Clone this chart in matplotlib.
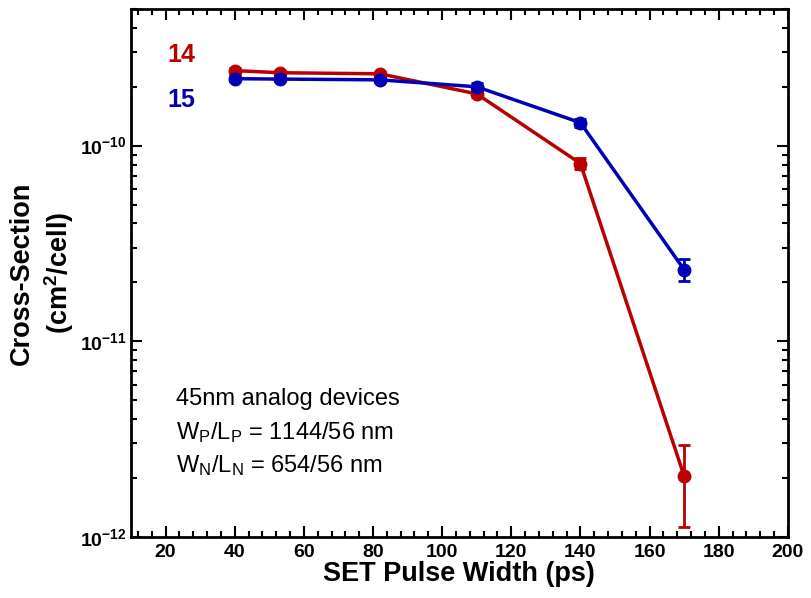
import math
import matplotlib
matplotlib.use("Agg")
import matplotlib.pyplot as plt
from matplotlib.ticker import MultipleLocator, LogLocator, FixedLocator, FuncFormatter, NullFormatter

plt.rcParams['font.family'] = ['Liberation Sans', 'DejaVu Sans']
plt.rcParams['mathtext.fontset'] = 'custom'
plt.rcParams['mathtext.rm'] = 'Liberation Sans'
plt.rcParams['mathtext.bf'] = 'Liberation Sans:bold'
plt.rcParams['mathtext.it'] = 'Liberation Sans:italic'

pulse_width = [40, 53, 82, 110, 140, 170]
sigma_14 = [2.42e-10, 2.36e-10, 2.33e-10, 1.84e-10, 8.1e-11, 2.04e-12]
err_lo_14 = [0.08e-10, 0.06e-10, 0.06e-10, 0.07e-10, 0.5e-11, 0.92e-12]
err_hi_14 = [0.08e-10, 0.06e-10, 0.06e-10, 0.07e-10, 0.5e-11, 0.92e-12]
sigma_15 = [2.2e-10, 2.19e-10, 2.17e-10, 2.0e-10, 1.31e-10, 2.32e-11]
err_lo_15 = [0.07e-10, 0.06e-10, 0.06e-10, 0.08e-10, 0.06e-10, 0.30e-11]
err_hi_15 = [0.07e-10, 0.06e-10, 0.06e-10, 0.08e-10, 0.06e-10, 0.31e-11]

red = '#bb0000'
blue = '#0000b4'

fig = plt.figure(figsize=(8.11, 5.98), dpi=100)
ax = fig.add_axes([0.1615, 0.1025, 0.81, 0.8825])

ax.errorbar(pulse_width, sigma_14, yerr=[err_lo_14, err_hi_14], color=red, lw=2.5,
            marker='o', ms=9, capsize=4, elinewidth=2, capthick=2, zorder=3)
ax.errorbar(pulse_width, sigma_15, yerr=[err_lo_15, err_hi_15], color=blue, lw=2.5,
            marker='o', ms=9, capsize=4, elinewidth=2, capthick=2, zorder=4)

ax.set_yscale('log')
ax.set_xlim(10, 200)
ax.set_ylim(1e-12, 5e-10)

ax.xaxis.set_major_locator(MultipleLocator(20))
ax.xaxis.set_minor_locator(MultipleLocator(4))
ax.yaxis.set_major_locator(FixedLocator([1e-12, 1e-11, 1e-10]))
ax.yaxis.set_minor_locator(LogLocator(base=10, subs=range(2, 10)))
ax.yaxis.set_minor_formatter(NullFormatter())

def yfmt(v, pos):
    e = int(round(math.log10(v)))
    return r'$\mathbf{10^{%d}}$' % e

ax.yaxis.set_major_formatter(FuncFormatter(yfmt))
ax.xaxis.set_major_formatter(FuncFormatter(lambda v, p: '%d' % v if v >= 20 else ''))

ax.tick_params(which='both', direction='in', top=True, right=True, width=1.5)
ax.tick_params(which='major', length=8, labelsize=14, pad=5)
ax.tick_params(axis='y', which='major', pad=3)
ax.tick_params(which='minor', length=4)
for lab in ax.get_xticklabels():
    lab.set_fontweight('bold')
for s in ax.spines.values():
    s.set_linewidth(2)

ax.set_xlabel('SET Pulse Width (ps)', fontsize=19.5, fontweight='bold', labelpad=0)
ax.set_ylabel('Cross-Section\n(cm$^\\mathbf{2}$/cell)', fontsize=19.5, fontweight='bold',
              linespacing=1.3, labelpad=3)

ax.text(0.056, 0.913, '14', color=red, fontsize=18, fontweight='bold', transform=ax.transAxes,
        va='center')
ax.text(0.056, 0.828, '15', color=blue, fontsize=18, fontweight='bold', transform=ax.transAxes,
        va='center')

ax.text(0.068, 0.26, '45nm analog devices', fontsize=17, transform=ax.transAxes, va='center')
ax.text(0.068, 0.198, r'W$_\mathrm{P}$/L$_\mathrm{P}$ = 1144/56 nm', fontsize=17,
        transform=ax.transAxes, va='center')
ax.text(0.068, 0.135, r'W$_\mathrm{N}$/L$_\mathrm{N}$ = 654/56 nm', fontsize=17,
        transform=ax.transAxes, va='center')

fig.savefig('out.png', dpi=100)
